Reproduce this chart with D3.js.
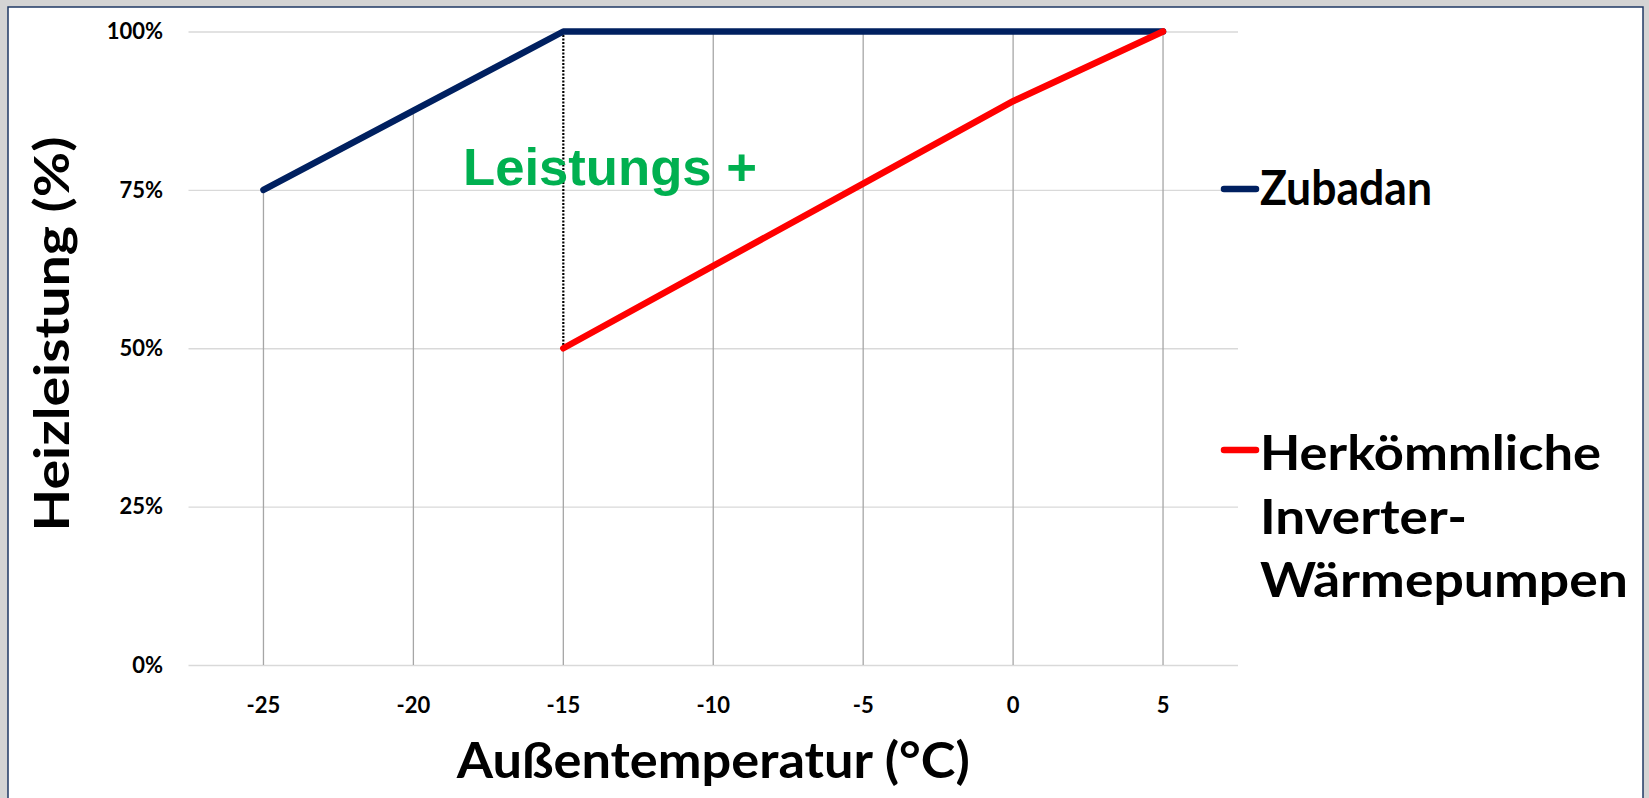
<!DOCTYPE html>
<html><head><meta charset="utf-8">
<script src="https://cdn.jsdelivr.net/npm/d3@7"></script>
<style>
html,body{margin:0;padding:0;background:#d4d4d4;}
svg{display:block;}
text{font-family:Lato,"Open Sans",sans-serif;font-weight:bold;}
</style></head>
<body>
<svg id="c" width="1649" height="798"></svg>
<script>
const temps = [-25, -20, -15, -10, -5, 0, 5];
const zubadan = [75, 87.5, 100, 100, 100, 100, 100];
const herkoemmlich = [null, null, 50, 63, 76, 89, 100];
const xTicks = [-25, -20, -15, -10, -5, 0, 5];
const yTicks = [0, 25, 50, 75, 100];
const seriesNames = ["Zubadan", "Herkömmliche Inverter-Wärmepumpen"];
const legendLines = [["Zubadan"], ["Herkömmliche", "Inverter-", "Wärmepumpen"]];
const seriesColors = ["#002060", "#ff0000"];
const annotationText = "Leistungs +";
const annotationTemp = -15;
const xTitle = "Außentemperatur (°C)";
const yTitle = "Heizleistung (%)";

const svg = d3.select("#c");
svg.append("rect").attr("x", 8).attr("y", 7).attr("width", 1635).attr("height", 800)
  .attr("fill", "#fff").attr("stroke", "#1f3864").attr("stroke-width", 1.5);

const x = d3.scaleLinear().domain([-27.5, 7.5]).range([188.5, 1238]);
const y = d3.scaleLinear().domain([0, 100]).range([665, 31.5]);

// horizontal gridlines
svg.append("g")
  .attr("transform", `translate(${x.range()[0]},0)`)
  .call(d3.axisLeft(y).tickValues(yTicks).tickSize(-(x.range()[1] - x.range()[0])).tickFormat(""))
  .call(g => g.select(".domain").remove())
  .call(g => g.selectAll("line").attr("stroke", "#d9d9d9").attr("stroke-width", 1.3));

// y tick labels
svg.append("g").selectAll("text").data(yTicks).join("text")
  .attr("x", 163).attr("y", d => y(d)).attr("dy", "0.35em")
  .attr("text-anchor", "end").attr("font-size", 22).attr("fill", "#000")
  .text(d => d + "%");

// x tick labels
svg.append("g").selectAll("text").data(xTicks).join("text")
  .attr("x", d => x(d)).attr("y", 705).attr("dy", "0.35em")
  .attr("text-anchor", "middle").attr("font-size", 22).attr("fill", "#000")
  .text(d => d);

// drop lines
const drops = temps.map((t, i) => {
  const vals = [zubadan[i], herkoemmlich[i]].filter(v => v != null);
  const top = t === annotationTemp ? d3.min(vals) : d3.max(vals);
  return {t, top};
});
svg.append("g").selectAll("line").data(drops).join("line")
  .attr("x1", d => x(d.t)).attr("x2", d => x(d.t))
  .attr("y1", d => y(d.top)).attr("y2", y(0))
  .attr("stroke", "#a6a6a6").attr("stroke-width", 1.3);

// dotted annotation line at -15
const ai = temps.indexOf(annotationTemp);
svg.append("line")
  .attr("x1", x(annotationTemp)).attr("x2", x(annotationTemp))
  .attr("y1", y(zubadan[ai])).attr("y2", y(herkoemmlich[ai]))
  .attr("stroke", "#000").attr("stroke-width", 2.2).attr("stroke-dasharray", "2,1.5");

// series lines
const line = d3.line().defined(d => d[1] != null).x(d => x(d[0])).y(d => y(d[1]));
[zubadan, herkoemmlich].forEach((s, k) => {
  svg.append("path").datum(temps.map((t, i) => [t, s[i]]))
    .attr("d", line).attr("fill", "none").attr("stroke", seriesColors[k])
    .attr("stroke-width", 6.5).attr("stroke-linejoin", "round").attr("stroke-linecap", "round");
});

// annotation text
svg.append("text").attr("x", 463).attr("y", 185)
  .style("font-family", "'Liberation Sans', Arial, sans-serif").attr("font-size", 52)
  .attr("fill", "#00b050").attr("textLength", 294).attr("lengthAdjust", "spacingAndGlyphs")
  .text(annotationText);

// legend
const legendY = [189, 450];
const legendBase = [[205], [470, 534, 597]];
const legendW = [[172], [341, 207, 368]];
legendLines.forEach((lines, k) => {
  svg.append("line").attr("x1", 1224).attr("x2", 1256)
    .attr("y1", legendY[k]).attr("y2", legendY[k])
    .attr("stroke", seriesColors[k]).attr("stroke-width", 6.5).attr("stroke-linecap", "round");
  lines.forEach((t, j) => {
    svg.append("text").attr("x", 1260).attr("y", legendBase[k][j])
      .attr("font-size", 47).attr("fill", "#000")
      .attr("textLength", legendW[k][j]).attr("lengthAdjust", "spacingAndGlyphs")
      .text(t);
  });
});

// axis titles
svg.append("text").attr("x", (x.range()[0] + x.range()[1]) / 2).attr("y", 778)
  .attr("text-anchor", "middle").attr("font-size", 50).attr("fill", "#000")
  .attr("textLength", 513).attr("lengthAdjust", "spacingAndGlyphs")
  .text(xTitle);
svg.append("text").attr("transform", "translate(69,334) rotate(-90)")
  .attr("text-anchor", "middle").attr("font-size", 48).attr("fill", "#000")
  .attr("textLength", 395).attr("lengthAdjust", "spacingAndGlyphs")
  .text(yTitle);
</script>
</body></html>
